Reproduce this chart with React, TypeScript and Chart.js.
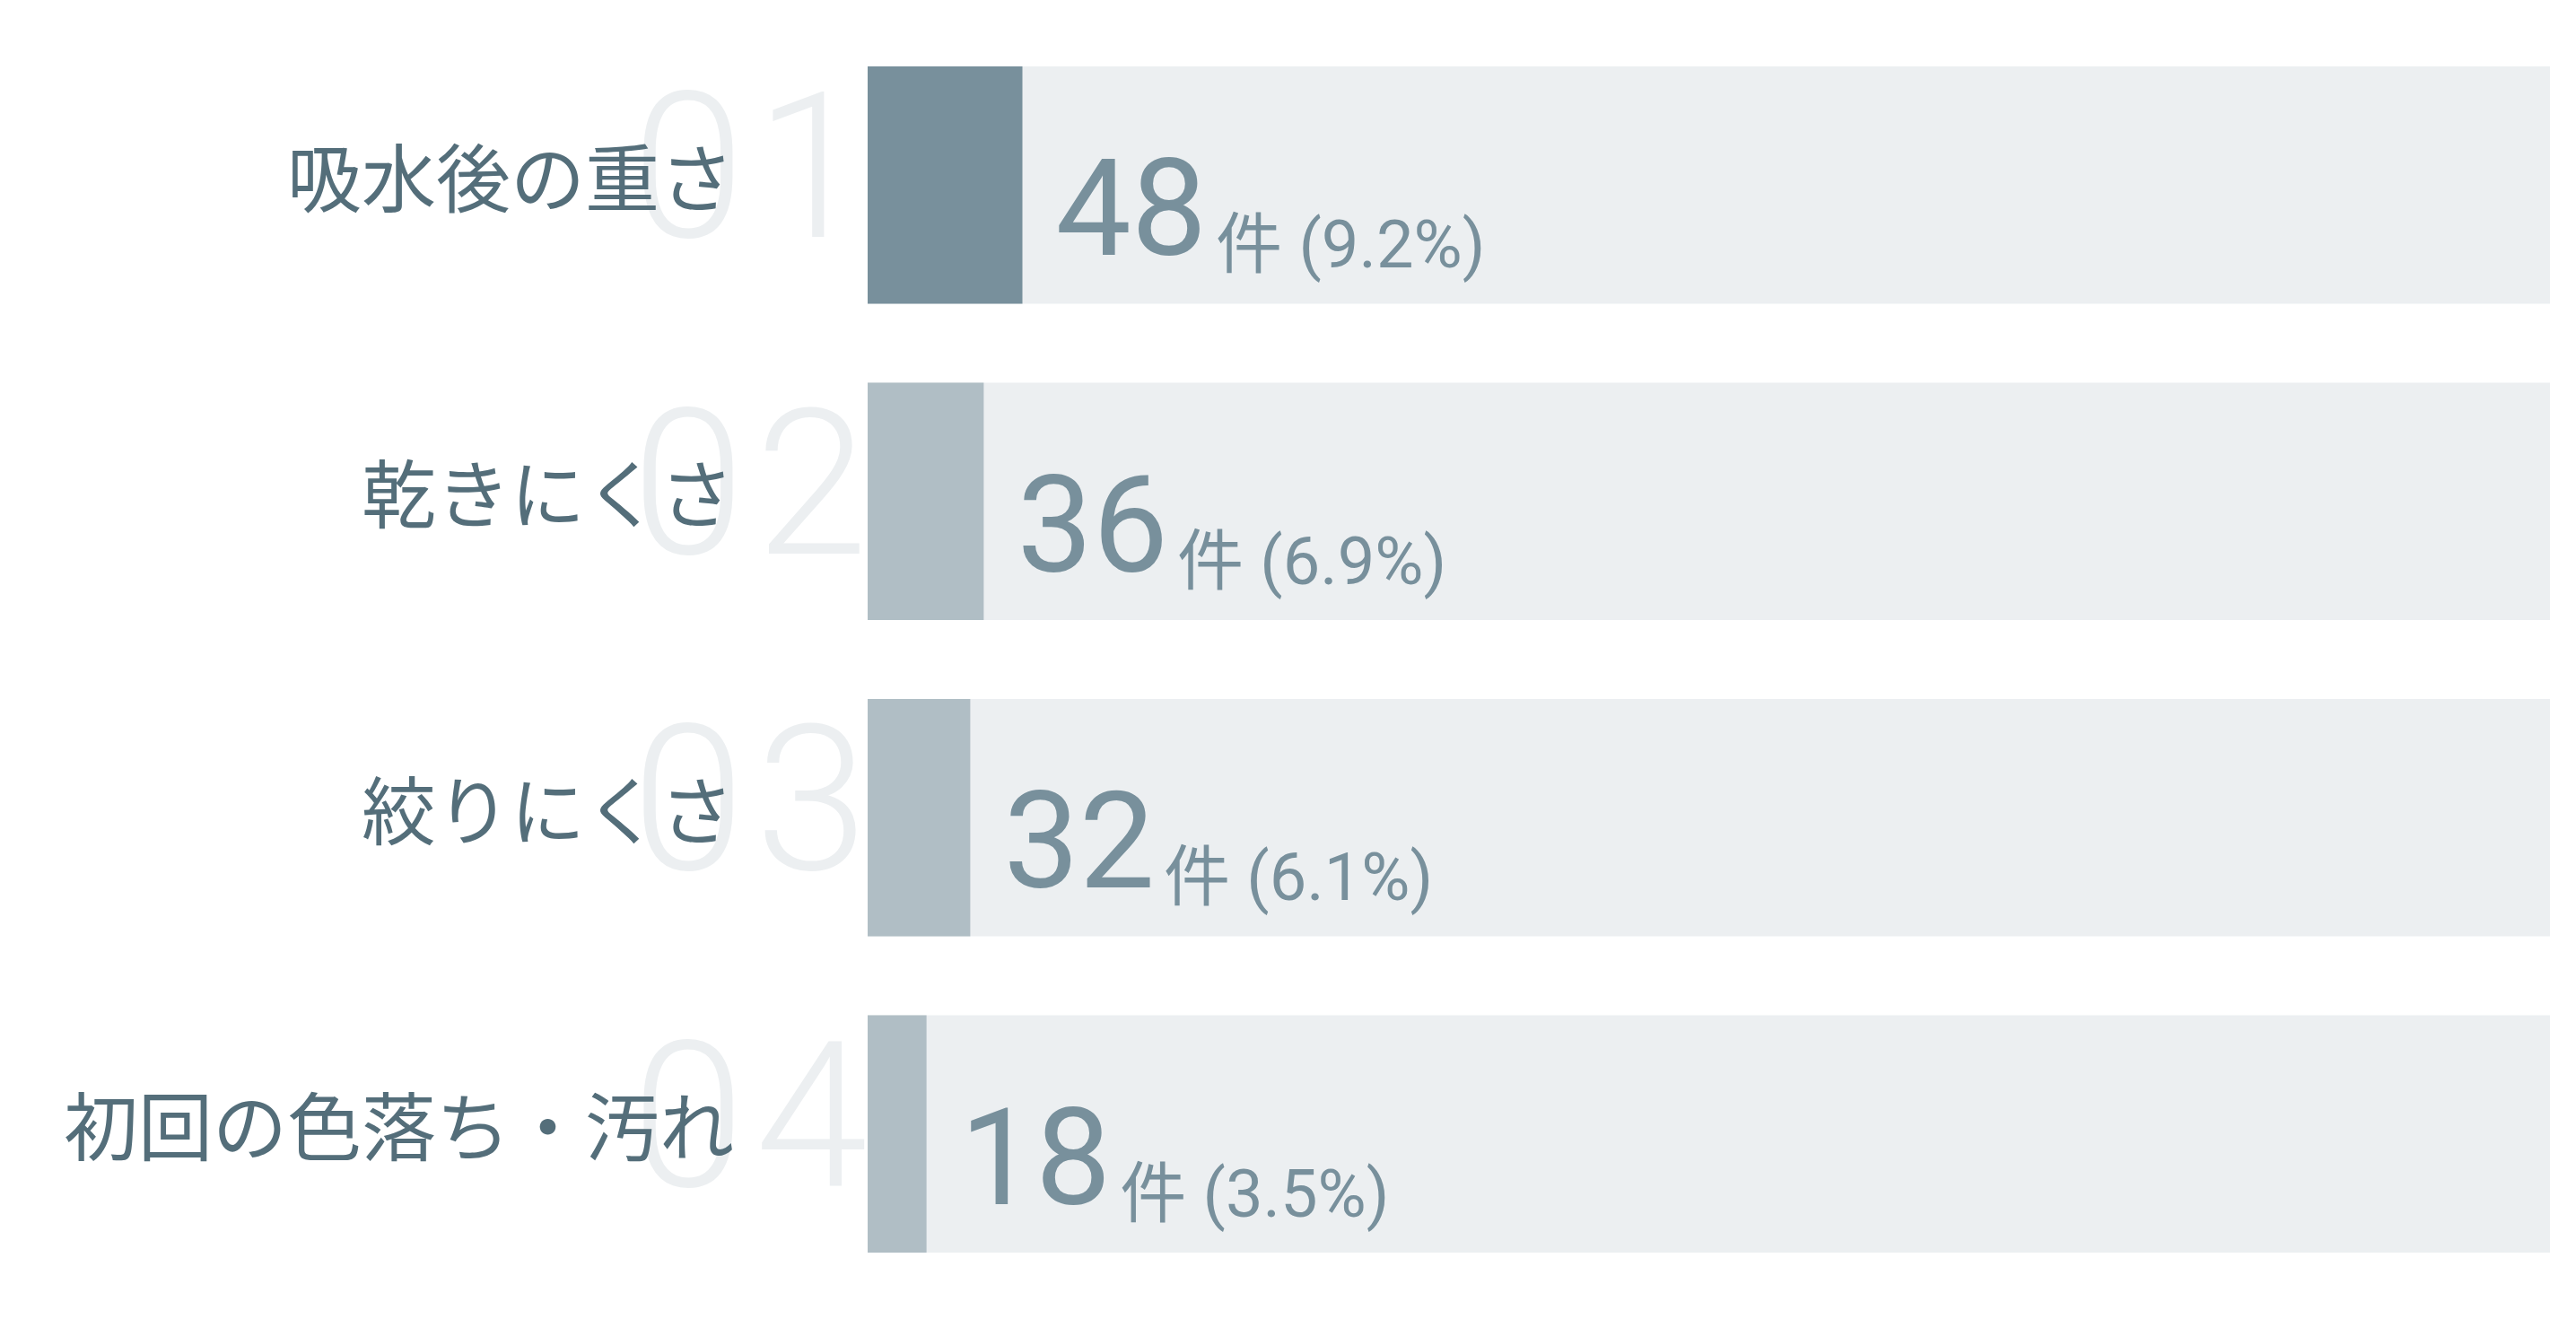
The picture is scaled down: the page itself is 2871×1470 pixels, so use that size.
import { useEffect, useRef } from "react";
import { Chart, registerables } from "chart.js";

Chart.register(...registerables);

const categories = ["吸水後の重さ", "乾きにくさ", "絞りにくさ", "初回の色落ち・汚れ"];
const rankLabels = ["01", "02", "03", "04"];
const counts = [48, 36, 32, 18];
const percents = [9.2, 6.9, 6.1, 3.5];
const trackValues = [100, 100, 100, 100];
const barColors = ["#78909c", "#b0bec5", "#b0bec5", "#b0bec5"];

// big faded rank number, category name, and "48件 (9.2%)" next to each bar
const rankLabelPlugin = {
  id: "rankLabels",
  afterDatasetsDraw(chart: any) {
    const { ctx, chartArea, scales } = chart;
    const xScale = scales.x;
    const yScale = scales.y;
    ctx.save();
    categories.forEach((cat, i) => {
      const cy = yScale.getPixelForValue(i);

      ctx.textAlign = "right";
      ctx.textBaseline = "alphabetic";
      ctx.font = "300 226px Roboto";
      ctx.fillStyle = "#eceff1";
      ctx.letterSpacing = "12px";
      ctx.fillText(rankLabels[i], chartArea.left + 12, cy + 58);
      ctx.letterSpacing = "0px";

      ctx.textBaseline = "middle";
      ctx.font = "400 83px 'Noto Sans CJK JP'";
      ctx.fillStyle = "#546e7a";
      ctx.fillText(cat, chartArea.left - 149, cy - 8);

      const vx = xScale.getPixelForValue(percents[i]) + 37;
      ctx.textAlign = "left";
      ctx.textBaseline = "alphabetic";
      ctx.fillStyle = "#78909c";
      ctx.font = "400 150px Roboto";
      const num = String(counts[i]);
      ctx.fillText(num, vx, cy + 78);
      const w = ctx.measureText(num).width;
      ctx.font = "400 74px Roboto, 'Noto Sans CJK JP'";
      ctx.fillText(`件 (${percents[i]}%)`, vx + w + 10, cy + 92);
    });
    ctx.restore();
  },
};

export default function App() {
  const canvasRef = useRef<HTMLCanvasElement>(null);

  useEffect(() => {
    document.body.style.margin = "0";
    const ctx = canvasRef.current?.getContext("2d");
    if (!ctx) return;

    const chart = new Chart(ctx, {
      type: "bar",
      data: {
        labels: categories,
        datasets: [
          {
            data: percents,
            backgroundColor: barColors,
            borderWidth: 0,
            grouped: false,
            order: 0,
          },
          {
            data: trackValues,
            backgroundColor: "#eceff1",
            borderWidth: 0,
            grouped: false,
            order: 1,
          },
        ],
      },
      options: {
        indexAxis: "y",
        animation: false,
        responsive: true,
        maintainAspectRatio: false,
        devicePixelRatio: 1,
        events: [],
        barPercentage: 0.75,
        categoryPercentage: 1,
        layout: {
          padding: { left: 967, right: 29, top: 30, bottom: 30 },
        },
        scales: {
          x: { display: false, min: 0, max: 100 },
          y: { display: false },
        },
        plugins: {
          legend: { display: false },
          tooltip: { enabled: false },
        },
      },
      plugins: [rankLabelPlugin],
    });

    document.fonts
      .load("300 226px Roboto")
      .then(() => document.fonts.load("400 83px 'Noto Sans CJK JP'"))
      .then(() => chart.draw())
      .catch(() => {});

    return () => {
      chart.destroy();
    };
  }, []);

  return (
    <div style={{ position: "relative", width: 2871, height: 1470, overflow: "hidden", background: "#fff" }}>
      <canvas ref={canvasRef} />
    </div>
  );
}
